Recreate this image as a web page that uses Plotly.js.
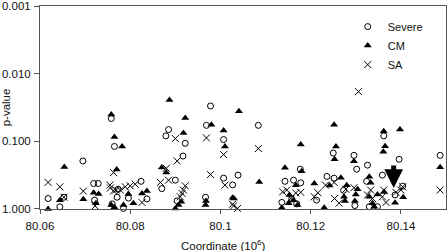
<!DOCTYPE html>
<html>
<head>
<meta charset="utf-8">
<script src="https://cdn.plot.ly/plotly-3.0.1.min.js"></script>
<style>html,body{margin:0;padding:0;background:#fff;}#chart{width:448px;height:251px;}</style>
</head>
<body>
<div id="chart"></div>
<script>
var severeX = [80.0618,80.0644,80.0653,80.0695,80.0719,80.0729,80.0721,80.0758,80.0765,80.0771,80.0773,80.0796,80.0785,80.0760,80.0824,80.0837,80.0885,80.0879,80.0922,80.0978,80.0969,80.1007,80.0917,80.0900,80.0870,80.0904,80.0967,80.1007,80.1027,80.1039,80.1084,80.1177,80.1143,80.1162,80.1178,80.1136,80.1236,80.1362,80.1250,80.1296,80.1396,80.1326,80.1302,80.1324,80.1359,80.1487,80.1273,80.1298,80.1330,80.1348,80.1387,80.1404,80.1158,80.1169,80.1213,80.1252];
var severeP = [0.70,0.93,0.67,0.195,0.42,0.42,0.74,0.046,0.119,0.67,0.51,0.69,0.98,0.84,0.39,0.71,0.067,0.083,0.107,0.030,0.058,0.094,0.165,0.375,0.50,0.76,0.67,0.35,0.44,0.316,0.058,0.258,0.39,0.375,0.41,0.80,0.33,0.083,0.149,0.161,0.184,0.225,0.258,0.39,0.316,0.161,0.53,0.89,0.925,0.925,0.62,0.46,0.71,0.84,0.74,0.35];

var cmX = [80.0618,80.0654,80.0644,80.0696,80.0719,80.0730,80.0724,80.0758,80.0765,80.0782,80.0770,80.0796,80.0758,80.0765,80.0785,80.0807,80.0826,80.0837,80.0887,80.0922,80.0980,80.0918,80.1007,80.1010,80.0870,80.0880,80.0913,80.0900,80.0907,80.0968,80.0967,80.1027,80.1041,80.1178,80.1143,80.1180,80.1086,80.1167,80.1136,80.1208,80.1242,80.1230,80.1030,80.1252,80.1362,80.1398,80.1365,80.1361,80.1256,80.1253,80.1296,80.1330,80.1487,80.1267,80.1280,80.1304,80.1300,80.1274,80.1276,80.1333,80.1330,80.1337,80.1341,80.1348,80.1363,80.1387,80.1405,80.1153,80.1162,80.1171,80.1151,80.1298];
var cmP = [1.0,0.239,0.74,0.72,0.575,0.60,0.82,0.040,0.086,0.119,0.26,0.60,0.87,0.94,0.87,0.82,0.59,0.54,0.0245,0.045,0.057,0.075,0.069,0.119,0.244,0.29,0.78,0.98,0.87,0.76,0.87,0.68,0.036,0.111,0.245,0.276,0.40,0.444,0.96,0.42,0.45,0.96,0.70,0.057,0.071,0.067,0.118,0.143,0.119,0.184,0.197,0.335,0.241,0.346,0.444,0.51,0.61,0.66,0.76,0.41,0.66,0.82,0.925,0.61,0.56,0.81,0.67,0.62,0.74,0.87,0.82,0.76];

var saX = [80.0618,80.0644,80.0653,80.0696,80.0722,80.0763,80.0756,80.0763,80.0769,80.0778,80.0789,80.0800,80.0811,80.0755,80.0826,80.0900,80.0969,80.1007,80.0904,80.0880,80.0867,80.0885,80.0978,80.1010,80.0922,80.0918,80.0915,80.0911,80.1027,80.1084,80.1306,80.1138,80.1178,80.1216,80.1208,80.1233,80.1038,80.1487,80.1278,80.1296,80.1253,80.1263,80.1333,80.1326,80.1337,80.1362,80.1359,80.1367,80.1389,80.1400,80.1404,80.1029,80.1147,80.1167,80.1156,80.1252];
var saP = [0.405,0.47,0.67,0.544,0.90,0.29,0.49,0.54,0.525,0.525,0.47,0.455,0.43,0.444,0.80,0.091,0.089,0.157,0.195,0.25,0.405,0.375,0.31,0.444,0.455,0.525,0.59,0.66,0.85,0.128,0.0184,0.557,0.568,0.575,0.66,0.444,0.98,0.525,0.51,0.485,0.70,0.82,0.525,0.62,0.70,0.525,0.66,0.80,0.568,0.525,0.47,0.90,0.525,0.58,0.70,0.405];

var xTickVals = [80.06, 80.08, 80.1, 80.12, 80.14];
var xTickText = ['80.06', '80.08', '80.1', '80.12', '80.14'];
var yTickVals = [0.001, 0.01, 0.1, 1];
var yTickText = ['0.001', '0.010', '0.100', '1.000'];
var xTitle = 'Coordinate (10<sup>6</sup>)';
var yTitle = 'p-value';
var arrowX = 80.1384;
var arrowP = 0.49;

var fam = '"Liberation Sans", Arial, sans-serif';
var font = {family: fam, size: 11, color: '#111'};
var xTickFont = {family: fam, size: 11.5, color: '#111'};
var yTickFont = {family: fam, size: 11.5, color: '#111'};
var titleFont = {family: fam, size: 11.5, color: '#111'};

var traces = [
  {x: severeX, y: severeP, name: 'Severe', type: 'scatter', mode: 'markers', cliponaxis: false,
   marker: {symbol: 'circle-open', size: 6, color: '#000', line: {width: 1, color: '#000'}}},
  {x: cmX, y: cmP, name: 'CM', type: 'scatter', mode: 'markers', cliponaxis: false,
   marker: {symbol: 'triangle-up', size: 7, color: '#000', line: {width: 0}}},
  {x: saX, y: saP, name: 'SA', type: 'scatter', mode: 'markers', cliponaxis: false,
   marker: {symbol: 'x-thin-open', size: 7, color: '#000', line: {width: 1, color: '#000'}}}
];

var layout = {
  width: 448, height: 251,
  margin: {l: 40, r: 2, t: 6, b: 42},
  paper_bgcolor: '#fff', plot_bgcolor: '#fff',
  font: font,
  showlegend: true,
  legend: {x: 0.758, y: 0.97, xanchor: 'left', yanchor: 'top', bgcolor: 'rgba(0,0,0,0)',
           font: font, itemwidth: 30},
  xaxis: {
    range: [80.06, 80.15], tickvals: xTickVals, ticktext: xTickText,
    showgrid: false, zeroline: false, showline: true, mirror: true,
    linecolor: '#555', linewidth: 1, ticks: 'outside', ticklen: 4, tickcolor: '#555',
    tickfont: xTickFont, automargin: false, ticklabelstandoff: 2, ticklabeloverflow: 'allow'
  },
  yaxis: {
    type: 'log', range: [0.0002, -3.0008], tickvals: yTickVals, ticktext: yTickText,
    showgrid: false, zeroline: false, showline: true, mirror: true,
    linecolor: '#555', linewidth: 1, ticks: 'outside', ticklen: 5, tickcolor: '#555',
    tickfont: yTickFont, automargin: false, ticklabelstandoff: 1, ticklabeloverflow: 'allow',
    title: {text: yTitle, font: titleFont, standoff: 2}
  },
  annotations: [
    {x: arrowX, y: Math.log10(arrowP), xref: 'x', yref: 'y',
     showarrow: true, ax: 0, ay: -24, arrowcolor: '#000', arrowwidth: 5,
     arrowhead: 2, arrowsize: 0.75, text: ''},
    {x: 0.453, y: -(245 - 209) / 203, xref: 'paper', yref: 'paper', yanchor: 'middle', xanchor: 'center',
     showarrow: false, text: xTitle, font: titleFont}
  ]
};

Plotly.newPlot('chart', traces, layout, {staticPlot: true, displayModeBar: false});
</script>
</body>
</html>
